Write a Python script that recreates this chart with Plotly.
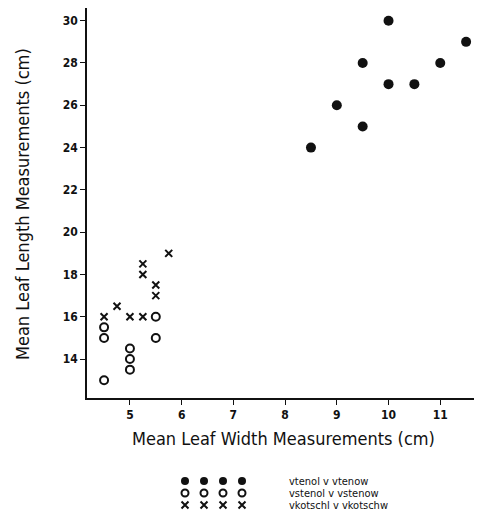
import plotly.graph_objects as go

# --- data ---
tenol_x = [10, 11.5, 9.5, 11, 10, 10.5, 9, 9.5, 8.5]
tenol_y = [30, 29, 28, 28, 27, 27, 26, 25, 24]

stenol_x = [4.5, 4.5, 4.5, 5, 5, 5, 5.5, 5.5]
stenol_y = [15.5, 15, 13, 14.5, 14, 13.5, 16, 15]

kotschl_x = [4.5, 4.75, 5, 5.25, 5.25, 5.25, 5.5, 5.5, 5.75]
kotschl_y = [16, 16.5, 16, 16, 18, 18.5, 17, 17.5, 19]

x_ticks = [5, 6, 7, 8, 9, 10, 11]
y_ticks = [14, 16, 18, 20, 22, 24, 26, 28, 30]

x_title = "Mean Leaf Width Measurements (cm)"
y_title = "Mean Leaf Length Measurements (cm)"
legend_names = ["vtenol v vtenow", "vstenol v vstenow", "vkotschl v vkotschw"]
legend_keys = [0, 1, 2, 3]

FONT = "DejaVu Sans Condensed, Liberation Sans Narrow, DejaVu Sans, sans-serif"
INK = "#111111"

# page has an 8px body margin: figure coordinates = page coordinates - 8
OFF = 8
W, H = 482 - OFF, 520 - OFF
ML, MR, MT, MB = 87 - OFF, 4, 0, 0
pw = W - ML - MR
ph = H - MT - MB

def py(page_y):
    return (H - (page_y - OFF)) / ph

def px(page_x):
    return (page_x - OFF - ML) / pw

fig = go.Figure()

fig.add_trace(go.Scatter(x=tenol_x, y=tenol_y, mode="markers",
                         marker=dict(symbol="circle", size=10, color=INK),
                         showlegend=False))
fig.add_trace(go.Scatter(x=stenol_x, y=stenol_y, mode="markers",
                         marker=dict(symbol="circle-open", size=8, color=INK,
                                     line=dict(width=2, color=INK)),
                         showlegend=False))
fig.add_trace(go.Scatter(x=kotschl_x, y=kotschl_y, mode="markers",
                         marker=dict(symbol="x-thin-open", size=7, color=INK,
                                     line=dict(width=2, color=INK)),
                         showlegend=False))

# legend keys drawn on a small auxiliary axis
styles = [
    dict(symbol="circle", size=8, color=INK),
    dict(symbol="circle-open", size=7, color=INK, line=dict(width=2, color=INK)),
    dict(symbol="x-thin-open", size=7, color=INK, line=dict(width=2, color=INK)),
]
rows = [2, 1, 0]
for name, st, r in zip(legend_names, styles, rows):
    fig.add_trace(go.Scatter(x=legend_keys, y=[r] * len(legend_keys), mode="markers",
                             marker=st, xaxis="x2", yaxis="y2", showlegend=False,
                             hoverinfo="skip"))
    fig.add_annotation(text=name, xref="paper", yref="y2", x=px(287), y=r,
                       xanchor="left", yanchor="middle", showarrow=False,
                       font=dict(family=FONT, size=11, color=INK))

# axis titles
fig.add_annotation(text=x_title, xref="paper", yref="paper", x=px(283), y=py(438),
                   xanchor="center", yanchor="middle", showarrow=False,
                   font=dict(family=FONT, size=18, color=INK))
fig.add_annotation(text=y_title, xref="paper", yref="paper", x=px(22), y=py(204),
                   xanchor="center", yanchor="middle", showarrow=False, textangle=-90,
                   font=dict(family=FONT, size=18, color=INK))

axis_common = dict(showgrid=False, zeroline=False, showline=True, linecolor=INK,
                   linewidth=1.5, ticks="outside", ticklen=5, tickwidth=1,
                   tickcolor=INK, mirror=False, automargin=False)

fig.update_layout(
    width=W, height=H,
    margin=dict(l=ML, r=MR, t=MT, b=MB),
    paper_bgcolor="white", plot_bgcolor="white",
    font=dict(family=FONT, color=INK),
    xaxis=dict(range=[4.17, 11.73], tickvals=x_ticks,
               tickfont=dict(size=12, family=FONT, color=INK, weight="bold"),
               anchor="y", **axis_common),
    yaxis=dict(range=[12.16, 30.60], tickvals=y_ticks, domain=[py(398), 1],
               tickfont=dict(size=12, family=FONT, color=INK, weight="bold"),
               anchor="x", **axis_common),
    xaxis2=dict(domain=[px(175.5), px(251.5)], range=[-0.5, 3.5], visible=False,
                anchor="y2", fixedrange=True),
    yaxis2=dict(domain=[py(511), py(475)], range=[-0.5, 2.5], visible=False,
                anchor="x2", fixedrange=True),
)

fig.write_html("out.html")
